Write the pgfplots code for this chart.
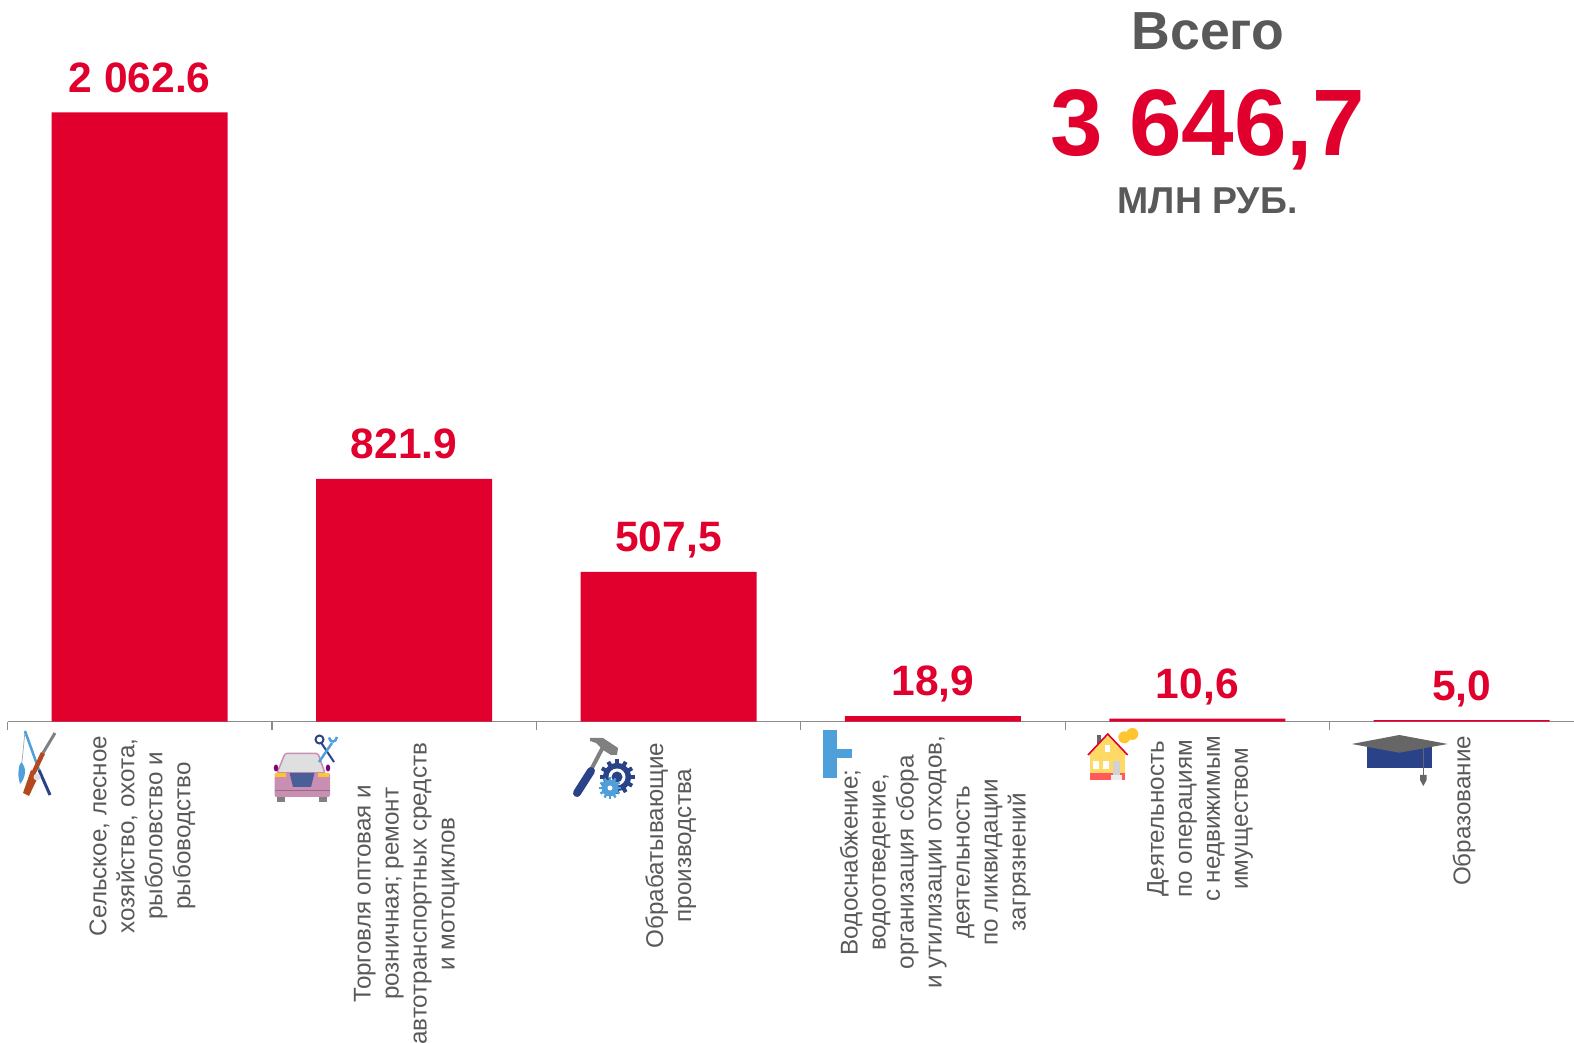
\documentclass[border=0pt]{standalone}
\usepackage{fontspec}
\usepackage{pgfplots}
\pgfplotsset{compat=1.18}
\setmainfont{Liberation Sans}
\definecolor{barred}{HTML}{E1002D}
\definecolor{txtgray}{HTML}{595959}
\definecolor{navy}{HTML}{2A4388}
\definecolor{sky}{HTML}{4F9FDB}
\definecolor{carpink}{HTML}{C88FB3}
\definecolor{amber}{HTML}{FFC52F}
\definecolor{housey}{HTML}{FFD966}
\definecolor{gunbr}{HTML}{B5491E}
\newcommand{\lab}[2]{\mbox{\fontsize{24.2}{28}\selectfont\begin{tabular}{@{}c@{}}#2\end{tabular}\hspace{#1pt}}}
\begin{document}
\begin{tikzpicture}
\useasboundingbox (0,0) rectangle (1574pt,1042pt);
\clip (0,0) rectangle (1574pt,1042pt);
\begin{axis}[
  at={(7.5pt,320.3pt)}, anchor=south west,
  scale only axis, width=1566.5pt, height=721.7pt,
  xmin=-0.5, xmax=5.4247, ymin=0, ymax=2443,
  axis y line=none, axis x line=bottom, axis line style={-, draw=black!45, line width=1.4pt},
  ytick=\empty,
  xtick={0,1,2,3,4,5},
  minor xtick={-0.5,0.5,1.5,2.5,3.5,4.5},
  major tick length=0pt, minor tick length=8pt,
  tick align=outside,
  minor tick style={draw=black!45, line width=1.2pt},
  clip=false,
  xticklabels={
    {\lab{0}{Сельское, лесное\\хозяйство, охота,\\рыболовство и\\рыбоводство}},
    {\lab{7}{Торговля оптовая и\\розничная; ремонт\\автотранспортных средств\\и мотоциклов}},
    {\lab{7}{Обрабатывающие\\производства}},
    {\lab{0}{Водоснабжение;\\водоотведение,\\организация сбора\\и утилизации отходов,\\деятельность\\по ликвидации\\загрязнений}},
    {\lab{0}{Деятельность\\по операциям\\с недвижимым\\имуществом}},
    {\lab{0}{Образование}}},
  xticklabel style={rotate=90, anchor=east, inner sep=0pt, text=txtgray, xshift=-14pt, yshift=-3pt},
  ybar, bar width=176pt,
  nodes near coords,
  point meta=explicit symbolic,
  nodes near coords style={font=\fontsize{42.5}{42.5}\selectfont\bfseries, text=barred, anchor=south, inner sep=0pt, text height=31pt, text depth=9pt, yshift=11pt},
]
\addplot[fill=barred, draw=none] coordinates {
  (0,2062.6) [2 062.6]
  (1,821.9) [821.9]
  (2,507.5) [507,5]
  (3,18.9) [18,9]
  (4,10.6) [10,6]
  (5,5.0) [5,0]
};
\end{axis}
\begin{scope}[shift={(0,1042pt)}, x=1pt, y=-1pt]
\node[anchor=base, inner sep=0pt, font=\fontsize{53.6}{54}\selectfont\bfseries, text=txtgray] at (1208,50) {Всего};
\node[anchor=base, inner sep=0pt, font=\fontsize{94.4}{95}\selectfont\bfseries, text=barred] at (1208,155.6) {3 646,7};
\node[anchor=base, inner sep=0pt, font=\fontsize{37.4}{38}\selectfont\bfseries, text=txtgray] at (1207.5,214) {МЛН РУБ.};
% icon 1
\draw[gray!70, line width=0.7pt] (25,731) -- (22,762);
\draw[sky, line width=2.5pt] (25,731) -- (39,770);
\draw[navy, line width=3pt] (39,770) -- (50,795);
\draw[gray, line width=3pt] (55,733) -- (43,753);
\draw[gunbr, line width=4.5pt] (43,753) -- (33,774);
\fill[gunbr] (31,770) -- (38,777) -- (29,796) -- (23,793) -- cycle;
\fill[gray!25] (37,777) circle (3.5);
\fill[sky] (18.5,772) .. controls (19,765) and (20,763) .. (21.7,762) .. controls (24,765) and (25,768) .. (25,772) .. controls (25,776) and (23,781) .. (20,784) .. controls (19,780) and (18,776) .. (18.5,772) -- cycle;
% icon 2
\fill[carpink, rounded corners=2pt] (274.5,773) rectangle (330,797);
\filldraw[draw=carpink, fill=gray!25, line width=1.5pt, rounded corners=1.5pt] (277,773) -- (285,753.5) -- (318,753.5) -- (325,773) -- cycle;
\fill[amber] (275,773) rectangle (286,777.5);
\fill[amber] (318,773) rectangle (329,777.5);
\fill[navy!85!white] (289.5,773) -- (314.5,773) -- (311,787) -- (293,787) -- cycle;
\fill[gray] (277,797) rectangle (285,802);
\fill[gray] (319,797) rectangle (327,802);
\fill[violet] (276,768) ellipse (2.2 and 3.5);
\fill[violet] (328,768) ellipse (2.2 and 3.5);
\draw[carpink!75!black, line width=1pt] (274.5,791) -- (330,791);
\draw[navy, line width=2pt] (321,742.5) -- (334,762);
\draw[navy, line width=2pt] (319.5,739.5) circle (4);
\draw[sky, line width=2.5pt] (319,762) -- (332,743);
\draw[sky, line width=2.5pt] (329,737.5) .. controls (330,743) and (336,743) .. (337,737);
% icon 3
\draw[gray, line width=4pt] (592,768) -- (603,747);
\draw[navy, line width=8pt, line cap=round] (591,771) -- (577,793);
\fill[gray] (590,738) -- (603,738) -- (618,748) -- (617,755) -- (611,755) -- (603,750) -- (596,743) -- (590,741) -- cycle;
\foreach \a in {0,30,...,330} {\fill[navy, rotate around={\a:(617,777)}] (615,759.5) rectangle (619,766);}
\fill[navy] (617,777) circle (14);
\fill[white] (617,777) circle (8.5);
\fill[navy] (617,777) circle (5.5);
\foreach \a in {0,30,...,330} {\fill[sky, rotate around={\a:(610,788)}] (608.8,777) rectangle (611.2,782);}
\fill[sky] (610,788) circle (8.5);
\fill[white] (610,788) circle (2.5);
% icon 4
\fill[sky] (822.7,730) rectangle (836.7,778);
\fill[sky] (836,749) rectangle (851.7,757.7);
% icon 5
\fill[gray!80!black] (1096.7,735) rectangle (1101,746);
\fill[housey] (1090,755) rectangle (1125,780);
\fill[housey] (1088,755) -- (1107.7,734) -- (1127.7,755) -- cycle;
\draw[barred, line width=1.6pt] (1088,755) -- (1107.7,734) -- (1127.7,755);
\fill[red!65!white] (1090,772.7) rectangle (1125,780);
\fill[white] (1105,745) rectangle (1110,752);
\fill[white] (1093,760.7) rectangle (1099,769);
\fill[white] (1103,760.7) rectangle (1109,769);
\fill[gray!35] (1113,760.7) rectangle (1120,775);
\fill[gray!15] (1111,775) rectangle (1122,780);
\fill[amber] (1132.3,734) circle (6);
\fill[amber] (1124.3,737.3) circle (6);
% icon 6
\fill[navy] (1366.7,746.7) rectangle (1432.3,767.7);
\fill[gray!80!black] (1351.7,744) -- (1399.3,735) -- (1447.7,744) -- (1399.3,752.7) -- cycle;
\draw[gray!80!black, line width=1pt] (1423.3,747) -- (1423.3,775);
\fill[gray!80!black] (1420,775) -- (1426.6,775) -- (1426.6,780) -- (1423.3,786) -- (1420,780) -- cycle;
\end{scope}
\end{tikzpicture}
\end{document}
